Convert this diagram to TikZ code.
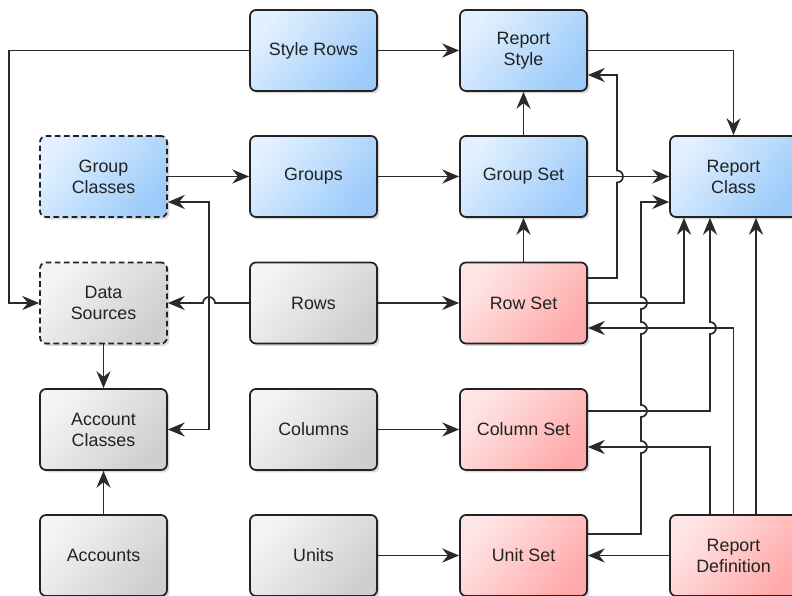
\documentclass[tikz,border=0pt]{standalone}
\usepackage{fontspec}
\setmainfont{Liberation Sans}
\usetikzlibrary{arrows.meta,calc,shadows}

\begin{document}
\begin{tikzpicture}[
		>={Stealth[length=12pt,width=10pt,inset=4pt]},
		box/.style={draw=boxline, line width=1.25pt, rounded corners=0.15cm,
			minimum width=3.175cm, minimum height=2.025cm, align=center,
			text=boxline, font=\fontsize{12.7}{15}\selectfont,
			drop shadow={shadow xshift=0.06cm, shadow yshift=-0.06cm, opacity=0.3}},
		bluebox/.style={box, top color=bluelight, bottom color=bluedark, shading angle=50},
		graybox/.style={box, top color=graylight, bottom color=graydark, shading angle=50},
		redbox/.style={box, top color=redlight, bottom color=reddark, shading angle=50},
		dashbox/.style={dash pattern=on 4pt off 2.5pt},
		conn/.style={draw=connline, line width=1.2pt, ->},
	]
	\definecolor{boxline}{HTML}{222222}
	\definecolor{connline}{HTML}{2A2A2A}
	\definecolor{bluelight}{HTML}{E2F0FF}
	\definecolor{bluedark}{HTML}{9CCBFA}
	\definecolor{graylight}{HTML}{F4F4F4}
	\definecolor{graydark}{HTML}{CFCFCF}
	\definecolor{redlight}{HTML}{FFE6E6}
	\definecolor{reddark}{HTML}{FFAAAA}

	\useasboundingbox (0,0) rectangle (19.8,14.9);

	% first row
	\node[bluebox] (srows) at (7.8375,13.6375) {Style Rows};
	\node[bluebox] (rstyle) at (13.0875,13.6375) {Report\\Style};
	% second row
	\node[bluebox,dashbox] (gcls) at (2.5875,10.4875) {Group\\Classes};
	\node[bluebox] (groups) at (7.8375,10.4875) {Groups};
	\node[bluebox] (gset) at (13.0875,10.4875) {Group Set};
	\node[bluebox] (rclass) at (18.3375,10.4875) {Report\\Class};
	% third row
	\node[graybox,dashbox] (dsrc) at (2.5875,7.325) {Data\\Sources};
	\node[graybox] (rows) at (7.8375,7.325) {Rows};
	\node[redbox] (rowset) at (13.0875,7.325) {Row Set};
	% fourth row
	\node[graybox] (acls) at (2.5875,4.1625) {Account\\Classes};
	\node[graybox] (cols) at (7.8375,4.1625) {Columns};
	\node[redbox] (colset) at (13.0875,4.1625) {Column Set};
	% fifth row
	\node[graybox] (accts) at (2.5875,1.0125) {Accounts};
	\node[graybox] (units) at (7.8375,1.0125) {Units};
	\node[redbox] (unitset) at (13.0875,1.0125) {Unit Set};
	\node[redbox] (rdef) at (18.3375,1.0125) {Report\\Definition};

	% vertical lanes
	\coordinate (v1) at (5.225,0);
	\coordinate (v2) at (15.425,0);
	\coordinate (v3) at (16.025,0);
	\coordinate (v4) at ([xshift=-1.2375cm]rclass.south);
	\coordinate (v5) at ([xshift=-0.5875cm]rclass.south);

	% Style Rows
	\draw[conn] (srows) -- (rstyle);
	\draw[conn] (srows.west) -| ([xshift=-0.75cm]dsrc.west) -- (dsrc.west);
	\draw[conn] (rstyle.east) -| (rclass.north);
	% Groups
	\draw[conn] (gcls) -- (groups);
	\draw[conn] (groups) -- (gset);
	\draw[conn] (gset) -- (rclass);
	\draw[conn] (gset) -- (rstyle);
	% Rows
	\draw[conn] (rowset) -- (gset);
	\draw[conn] (rows) -- (rowset);
	\draw[conn] ([yshift=0.625cm]rowset.east) -- ($(v2 |- rowset.east)+(0,0.625)$)
		-- ($(v2 |- gset.east)+(0,-0.15)$) arc[start angle=-90,end angle=90,radius=0.15]
		-- ($(v2 |- rstyle.east)+(0,-0.6125)$) -- ([yshift=-0.6125cm]rstyle.east);
	\draw[conn] (rows.west) -- ($(v1 |- rows.west)+(0.15,0)$)
		arc[start angle=0,end angle=180,radius=0.15] -- (dsrc.east);
	\draw[conn,<->] ([yshift=-0.6375cm]gcls.east) -- ($(v1 |- gcls.east)+(0,-0.6375)$) |- (acls.east);
	% Accounts
	\draw[conn] (dsrc) -- (acls);
	\draw[conn] (accts) -- (acls);
	\draw[conn] (cols) -- (colset);
	\draw[conn] (units) -- (unitset);
	% Report Class
	\draw[conn] (rowset.east) -| (v4);
	\draw[conn] ([yshift=0.4625cm]colset.east) -- ($(v5 |- colset.east)+(0,0.4625)$)
		-- ($(v5 |- rowset.east)+(0,-0.775)$) arc[start angle=-90,end angle=90,radius=0.15] -- (v5);
	% Report Definition
	\draw[conn] (rdef) -- (unitset);
	\draw[conn] (rdef.north) |- ([yshift=-0.625cm]rowset.east);
	\draw[conn] ([xshift=-0.5875cm]rdef.north) |- ([yshift=-0.4375cm]colset.east);
	\draw[conn] ([xshift=0.5625cm]rdef.north) -- ([xshift=0.5625cm]rclass.south);
	% Unit Set
	\draw[conn] ([yshift=0.5375cm]unitset.east) -- ($(v3 |- unitset.east)+(0,0.5375)$)
		-- ($(v3 |- colset.east)+(0,-0.5875)$) arc[start angle=-90,end angle=90,radius=0.15]
		-- ($(v3 |- colset.east)+(0,0.3125)$) arc[start angle=-90,end angle=90,radius=0.15]
		-- ($(v3 |- rowset.east)+(0,-0.775)$) arc[start angle=-90,end angle=90,radius=0.15]
		-- ($(v3 |- rowset.east)+(0,-0.15)$) arc[start angle=-90,end angle=90,radius=0.15]
		-- ($(v3 |- rclass.west)+(0,-0.6375)$) -- ([yshift=-0.6375cm]rclass.west);

\end{tikzpicture}
\end{document}
